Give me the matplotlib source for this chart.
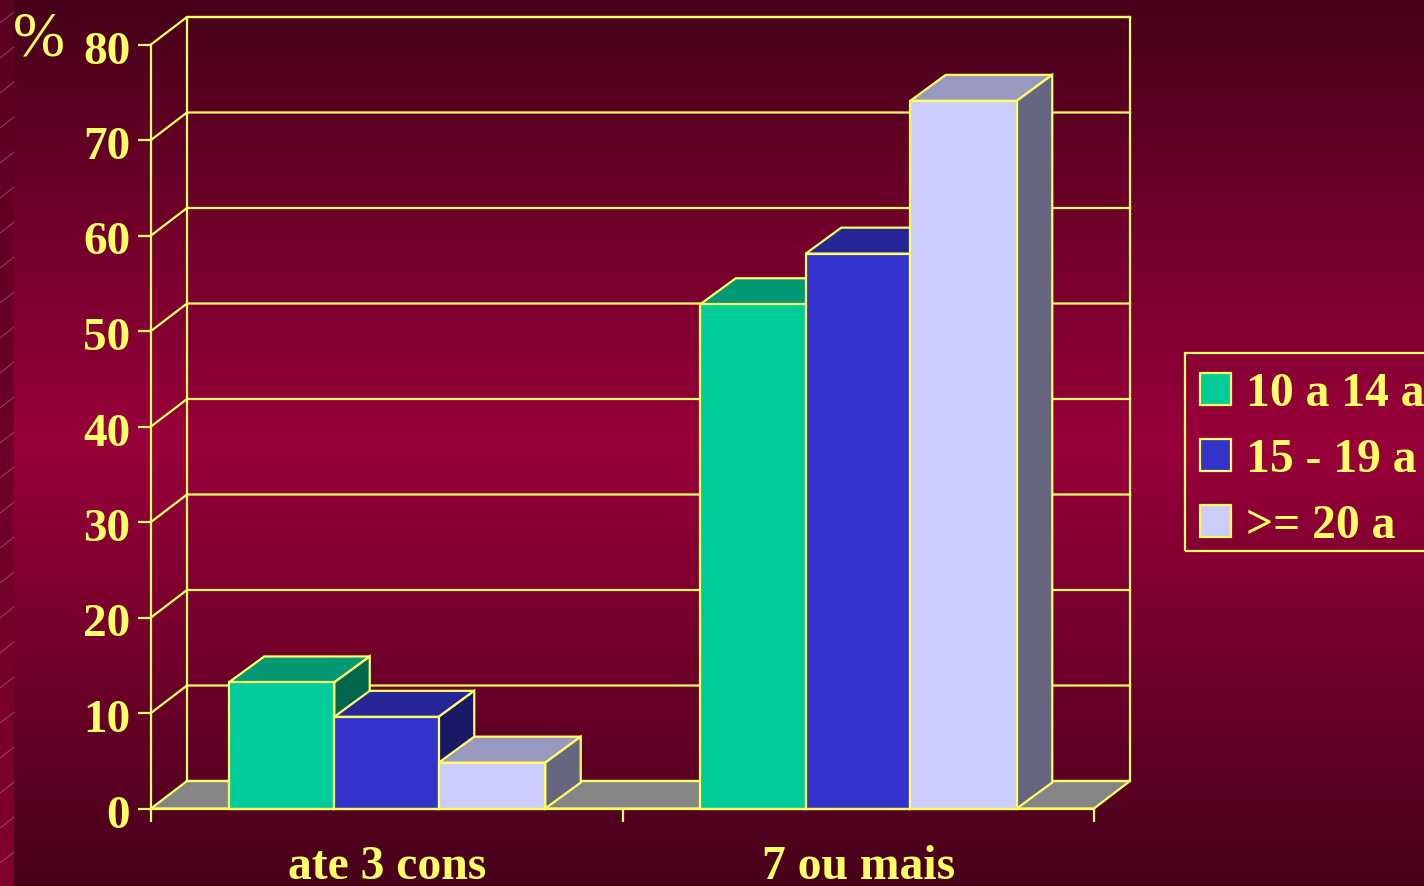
import numpy as np
import matplotlib
matplotlib.use("Agg")
import matplotlib.pyplot as plt
from matplotlib.patches import Polygon, Patch, Rectangle
from matplotlib.colors import LinearSegmentedColormap
from matplotlib.transforms import ScaledTranslation

plt.rcParams['font.family'] = ['Liberation Serif', 'DejaVu Serif']

categories = ["ate 3 cons", "7 ou mais"]
series = ["10 a 14 a", "15 - 19 a", ">= 20 a"]
values = [[13.2, 52.8], [9.6, 58.1], [4.8, 74.1]]
yticks = [0, 10, 20, 30, 40, 50, 60, 70, 80]
front = ["#00CC99", "#3333CC", "#CCCCFF"]
top = ["#009973", "#262699", "#9999BF"]
side = ["#00664D", "#191966", "#666680"]
YEL = "#FFFF66"
W, H = 1424, 886

fig = plt.figure(figsize=(W / 100, H / 100), dpi=100)

# background gradient
bg = fig.add_axes([0, 0, 1, 1], zorder=0)
bg.set_xlim(0, W); bg.set_ylim(H, 0); bg.axis("off")
cm = LinearSegmentedColormap.from_list("b", ["#47001A", "#99003A", "#47001A"])
bg.imshow(np.linspace(0, 1, 512)[:, None], cmap=cm, extent=(14, W, H, 0), aspect="auto", vmin=0, vmax=1)
cs = LinearSegmentedColormap.from_list("s", ["#5A0020", "#80002C"])
bg.imshow(np.linspace(0, 1, 256)[:, None], cmap=cs, extent=(0, 14, H, 0), aspect="auto", vmin=0, vmax=1)
for y0 in np.arange(12, H + 12, 35):
    bg.plot([0, 14], [y0 + 11, y0], color="#B0708A", lw=0.6, alpha=0.7)
bg.set_xlim(0, W); bg.set_ylim(H, 0)

# main axes
x0, x1, ybot, ytop = 151, 1094, 808.5, 44.5
ax = fig.add_axes([x0 / W, 1 - ybot / H, (x1 - x0) / W, (ybot - ytop) / H], zorder=1)
ax.patch.set_alpha(0)
ax.set_xlim(-0.5, 1.5); ax.set_ylim(0, 80)
pxx = 2.0 / (x1 - x0); pxy = 80 / (ybot - ytop)
dx, dy = 36 * pxx, 27.5 * pxy       # wall depth
bdx, bdy = 35.5 * pxx, 26 * pxy     # bar depth
lw = 1.6
kw = dict(edgecolor=YEL, linewidth=lw, joinstyle="miter", clip_on=False)

# floor and walls
ax.add_patch(Polygon([(-0.5, 0), (1.5, 0), (1.5 + dx, dy), (-0.5 + dx, dy)], facecolor="#858585", zorder=1, **kw))
ax.add_patch(Polygon([(-0.5 + dx, dy), (1.5 + dx, dy), (1.5 + dx, 80 + dy), (-0.5 + dx, 80 + dy)], facecolor="none", zorder=1, **kw))
for t in yticks[1:]:
    ax.plot([-0.5, -0.5 + dx, 1.5 + dx], [t, t + dy, t + dy], color=YEL, lw=lw, clip_on=False, zorder=1.5,
            solid_joinstyle="miter")

# bars
edges = np.array([-158, -52.5, 52, 158.5]) * pxx
for s in range(3):
    for c in range(2):
        v = values[s][c]
        l, r = c + edges[s], c + edges[s + 1]
        z = 2 + s * 0.1 + c
        ax.bar(l, v, width=r - l, align="edge", color=front[s], edgecolor=YEL, linewidth=lw, zorder=z + 0.05, clip_on=False)
        ax.add_patch(Polygon([(l, v), (r, v), (r + bdx, v + bdy), (l + bdx, v + bdy)], facecolor=top[s], zorder=z, **kw))
        ax.add_patch(Polygon([(r, 0), (r, v), (r + bdx, v + bdy), (r + bdx, bdy)], facecolor=side[s], zorder=z, **kw))

# axes furniture
for sp in ("top", "right"):
    ax.spines[sp].set_visible(False)
for sp in ("left", "bottom"):
    ax.spines[sp].set_color(YEL); ax.spines[sp].set_linewidth(lw); ax.spines[sp].set_zorder(5)
ax.set_yticks(yticks)
ax.set_xticks([-0.5, 0.5, 1.5])
ax.set_xticklabels([])
ax.set_xticks([0, 1], minor=True)
ax.set_xticklabels(categories, minor=True, fontsize=34.3, fontweight="bold", color=YEL)
ax.tick_params(axis="x", which="major", length=9.5, width=lw, color=YEL, direction="out")
ax.tick_params(axis="x", which="minor", length=0, pad=26.5)
ax.tick_params(axis="y", length=9.5, width=lw, color=YEL, direction="out", pad=5.5,
               labelsize=34, labelcolor=YEL)
shift = ScaledTranslation(0, -3 / 100, fig.dpi_scale_trans)
for lab in ax.get_yticklabels():
    lab.set_fontweight("bold")
    lab.set_transform(lab.get_transform() + shift)

fig.text(13 / W, 1 - 55 / H, "%", fontsize=45, color=YEL, ha="left", va="baseline")

handles = [Patch(facecolor=front[i], edgecolor=YEL, linewidth=lw, label=series[i]) for i in range(3)]
leg = fig.legend(handles=handles, loc="upper left", bbox_to_anchor=(1200 / W, 1 - 372 / H),
                 bbox_transform=fig.transFigure, borderaxespad=0, frameon=False,
                 labelcolor=YEL, prop={"size": 34.3, "weight": "bold"},
                 handlelength=0.65, handleheight=0.65, handletextpad=0.31, borderpad=0, labelspacing=0.46)
leg.set_zorder(10)
fig.add_artist(Rectangle((1185 / W, 1 - 550.5 / H), 260 / W, 198 / H, transform=fig.transFigure,
                         facecolor="none", edgecolor=YEL, linewidth=lw, zorder=10))

fig.savefig("out.png", dpi=100)
